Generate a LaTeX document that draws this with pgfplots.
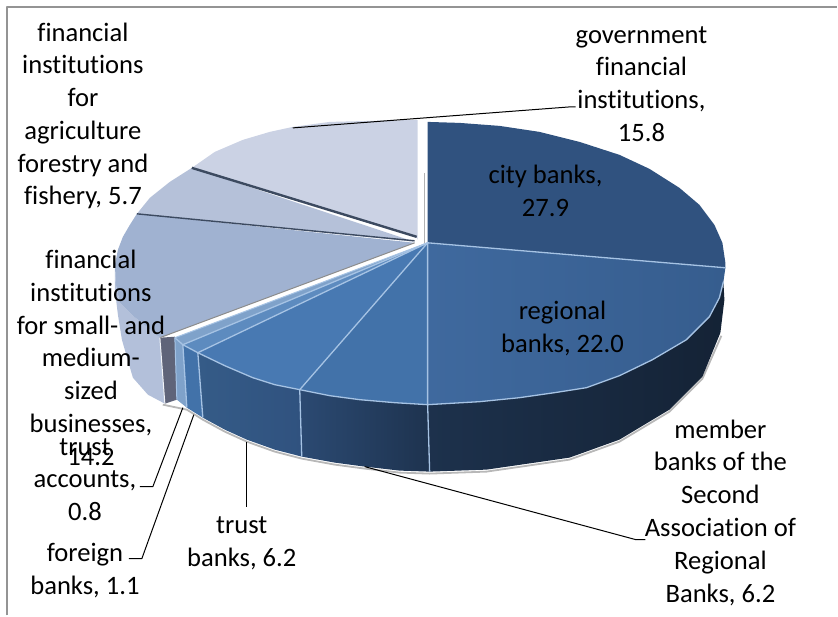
\documentclass[border=0pt]{standalone}
\usepackage{pgfplots}
\pgfplotsset{compat=1.18}
\usepackage{fontspec}
\setmainfont{Carlito}[Ligatures=NoCommon]
\definecolor{cCity}{HTML}{30527F}
\definecolor{cRegA}{HTML}{3F699E}
\definecolor{cRegB}{HTML}{365D8E}
\definecolor{cMem}{HTML}{4272A9}
\definecolor{cTrust}{HTML}{4879B2}
\definecolor{cFor}{HTML}{5D8BBF}
\definecolor{cAcc}{HTML}{7FA2CA}
\definecolor{cSmall}{HTML}{A0B2D1}
\definecolor{cAgri}{HTML}{B5C1D9}
\definecolor{cGov}{HTML}{CBD2E4}
\definecolor{cEdge}{HTML}{A6C3E4}
\definecolor{cCut}{HTML}{5F6479}
\definecolor{cSep}{HTML}{3C4A60}
\begin{document}
\begin{tikzpicture}
\begin{axis}[
  scale only axis, width=838pt, height=616pt,
  xmin=0, xmax=838, ymin=0, ymax=616, y dir=reverse,
  axis lines=none, clip=false,
  every axis plot/.append style={mark=none, line join=round},
]
% page extent
\path (axis cs:0,0) -- (axis cs:838,616);
% chart frame
\addplot[draw=black!42, line width=1.4pt] coordinates {(7,616) (7,7) (838,7)};

% soft edge under the disc
\addplot[draw=black!28, line width=1.8pt] coordinates {(163,405) (187,410) (203,420) (225,432) (247,442) (275,452) (302,459) (335,465) (365,469) (400,473) (430,474) (487,472) (570,460) (620,442) (670,412) (703,379) (722,336)};

% side walls
\addplot[draw=none, fill=cGov!45!cSmall] coordinates {(160,338) (148,328) (133,316) (120,303) (116,285) (115,265) (115,290) (118,315) (122,340) (133,378) (148,395) (165,404)} --cycle;
\addplot[draw=none, fill=cCut] coordinates {(160,338) (175,337) (177,400) (165,404)} --cycle;
\addplot[draw=none, fill=cAcc] coordinates {(175,338) (183,345) (187,408) (177,400)} --cycle;
\addplot[draw=none, fill=cMem] coordinates {(183,345) (198,353) (203,418) (187,408)} --cycle;
\addplot[draw=none, left color=cMem!80!black, right color=cCity] coordinates {(198,353) (225,366) (253,378) (275,385) (300,390) (302,457) (275,450) (247,440) (225,430) (203,418)} --cycle;
\addplot[draw=none, left color=cCity!90!black, right color=cCity!62!black] coordinates {(300,390) (330,396) (360,400) (395,403) (428,405) (430,472) (400,471) (365,467) (335,463) (302,457)} --cycle;
\addplot[draw=none, left color=cCity!60!black, right color=cCity!42!black] coordinates {(428,405) (480,402) (520,398) (555,393) (587,388) (620,376) (653,360) (670,350) (687,340) (700,327) (710,317) (720,298) (724,282) (725,300) (721,333) (703,377) (670,410) (620,440) (570,458) (487,470) (430,472)} --cycle;

% top faces, main group
\addplot[draw=none, fill=cCity] coordinates {(428,243) (428,122) (460,123) (500,126) (540,132) (580,142) (620,155) (650,169) (680,188) (700,205) (715,225) (723,243) (726,263) (726,268)} --cycle;
\addplot[draw=none, left color=cRegA, right color=cRegB] coordinates {(428,243) (726,268) (724,282) (720,298) (710,317) (700,327) (687,340) (670,350) (653,360) (620,376) (587,388) (555,393) (520,398) (480,402) (428,405)} --cycle;
\addplot[draw=none, fill=cMem] coordinates {(428,243) (428,405) (395,403) (360,400) (330,396) (300,390)} --cycle;
\addplot[draw=none, fill=cTrust] coordinates {(428,243) (300,390) (275,385) (253,378) (225,366) (198,353)} --cycle;
\addplot[draw=none, fill=cFor] coordinates {(428,243) (198,353) (183,345)} --cycle;
\addplot[draw=none, fill=cAcc] coordinates {(428,243) (183,345) (175,338)} --cycle;

% top faces, left group
\addplot[draw=none, fill=cSmall] coordinates {(415,243) (160,338) (148,328) (133,316) (120,303) (116,285) (115,265) (118,250) (123,237) (130,225) (137,214)} --cycle;
\addplot[draw=none, fill=cAgri] coordinates {(415,242) (137,214) (150,198) (170,182) (192,168)} --cycle;
\addplot[draw=none, fill=cGov] coordinates {(417,238) (192,168) (215,152) (243,140) (270,132) (293,127) (330,122) (370,121) (418,120) (418,240)} --cycle;

% slice borders
\addplot[draw=cEdge, line width=1.3pt] coordinates {(175,338) (183,345) (198,353) (225,366) (253,378) (275,385) (300,390) (330,396) (360,400) (395,403) (428,405) (480,402) (520,398) (555,393) (587,388) (620,376) (653,360) (670,350) (687,340) (700,327) (710,317) (720,298) (724,282)};
\addplot[draw=cEdge, line width=1.3pt] coordinates {(726,268) (428,243) (428,405) (430,472)};
\addplot[draw=cEdge, line width=1.3pt] coordinates {(428,243) (300,390) (302,457)};
\addplot[draw=cEdge, line width=1.3pt] coordinates {(428,243) (198,353) (203,418)};
\addplot[draw=cEdge, line width=1.3pt] coordinates {(428,243) (183,345) (187,408)};
\addplot[draw=cEdge, line width=1pt] coordinates {(428,243) (175,338) (177,400)};
\addplot[draw=black!45, line width=1pt] coordinates {(415,243) (160,338)};
\addplot[draw=white!85!cSmall, line width=1pt] coordinates {(160,338) (165,404)};
\addplot[draw=cSep, line width=1.4pt] coordinates {(137,214) (415,241)};
\addplot[draw=cSep, line width=2.4pt] coordinates {(192,168) (417,237)};
\addplot[draw=black!30, line width=1.4pt] coordinates {(425,173) (425,243)};

% leader lines
\addplot[draw=black, line width=1pt] coordinates {(293,128) (570,107) (576,107)};
\addplot[draw=black, line width=1pt] coordinates {(365,467) (636,540) (646,540)};
\addplot[draw=black, line width=1pt] coordinates {(247,442) (247,507)};
\addplot[draw=black, line width=1pt] coordinates {(183,408) (153,487) (140,487)};
\addplot[draw=black, line width=1pt] coordinates {(194,415) (142,559) (129,559)};

% data labels
\tikzset{lab/.style={align=center, inner sep=0pt, font=\fontsize{26.6}{32.8}\selectfont}}
\node[lab] at (axis cs:642,84) {government\\financial\\institutions,\\15.8};
\node[lab] at (axis cs:546,191) {city banks,\\27.9};
\node[lab] at (axis cs:563,329) {regional\\banks, 22.0};
\node[lab] at (axis cs:721,513) {member\\banks of the\\Second\\Association of\\Regional\\Banks, 6.2};
\node[lab] at (axis cs:242,544) {trust\\banks, 6.2};
\node[lab] at (axis cs:85,571) {foreign\\banks, 1.1};
\node[lab] at (axis cs:85,480) {trust\\accounts,\\0.8};
\node[lab] at (axis cs:91,358) {financial\\institutions\\for small- and\\medium-\\sized\\businesses,\\14.2};
\node[lab] at (axis cs:83,116) {financial\\institutions\\for\\agriculture\\forestry and\\fishery, 5.7};
\end{axis}
\end{tikzpicture}
\end{document}
